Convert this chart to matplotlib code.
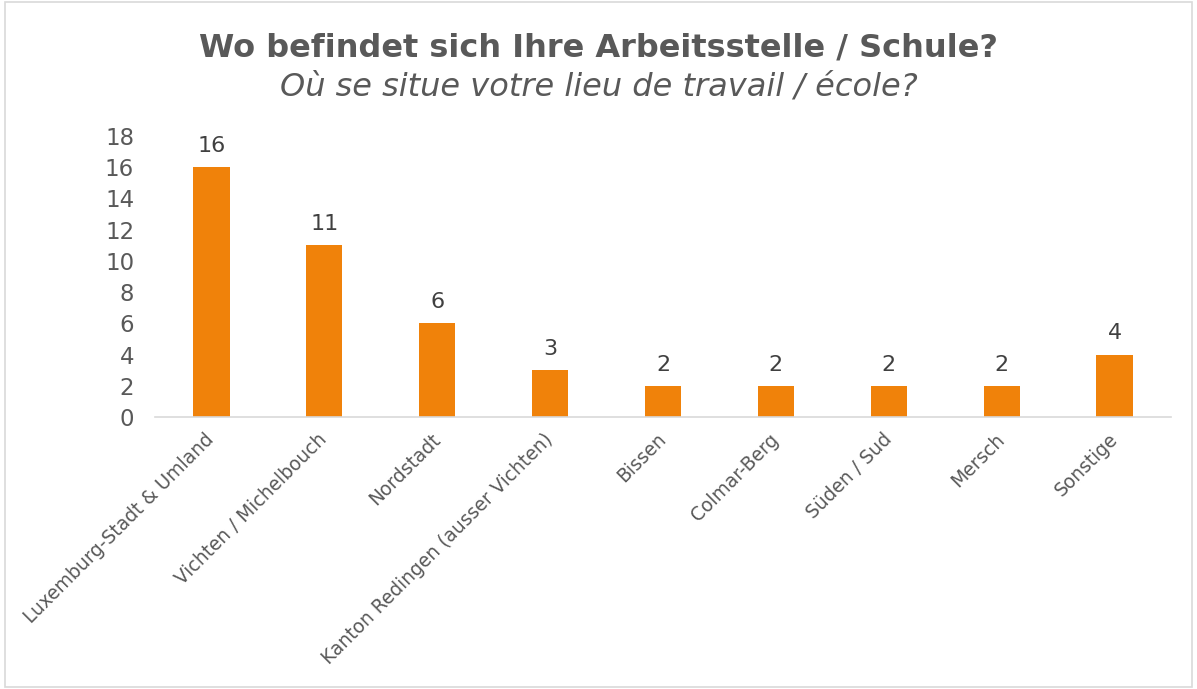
import matplotlib
matplotlib.use("Agg")
import matplotlib.pyplot as plt
from matplotlib.patches import Rectangle

categories = ["Luxemburg-Stadt & Umland", "Vichten / Michelbouch", "Nordstadt",
              "Kanton Redingen (ausser Vichten)", "Bissen", "Colmar-Berg",
              "Süden / Sud", "Mersch", "Sonstige"]
values = [16, 11, 6, 3, 2, 2, 2, 2, 4]
yticks = [0, 2, 4, 6, 8, 10, 12, 14, 16, 18]

title_de = "Wo befindet sich Ihre Arbeitsstelle / Schule?"
title_fr = "Où se situe votre lieu de travail / école?"

txt = "#595959"
bar_color = "#F0820A"

fig = plt.figure(figsize=(11.97, 6.89), dpi=100)
ax = fig.add_axes([155/1197, 1 - 417/689, (1171 - 155)/1197, (417 - 136)/689])

x = list(range(len(categories)))
ax.bar(x, values, width=0.32, color=bar_color, zorder=2)
ax.set_xlim(-0.5, len(categories) - 0.5)
ax.set_ylim(0, 18)
ax.set_yticks(yticks)
ax.set_yticklabels([str(t) for t in yticks], fontsize=16.5, color=txt)
ax.set_xticks(x)
ax.set_xticklabels(categories, rotation=45, ha="right", rotation_mode="anchor",
                   fontsize=13.4, color=txt)
ax.tick_params(axis="both", length=0)
ax.tick_params(axis="y", pad=15)
ax.tick_params(axis="x", pad=14)
for lbl in ax.get_xticklabels():
    lbl.set_va("center")
for s in ["top", "right", "left"]:
    ax.spines[s].set_visible(False)
ax.spines["bottom"].set_color("#d9d9d9")
ax.spines["bottom"].set_linewidth(1.2)

for xi, v in zip(x, values):
    ax.annotate(str(v), (xi, v), xytext=(0, 8), textcoords="offset points",
                ha="center", va="bottom", fontsize=16, color="#404040")

fig.text(0.5, 1 - 48/689, title_de, ha="center", va="center", fontsize=23,
         fontweight="bold", color=txt)
fig.text(0.5, 1 - 87/689, title_fr, ha="center", va="center", fontsize=23,
         fontstyle="italic", color=txt)

fig.patches.append(Rectangle((5/1197, 2/689), 1 - 10/1197, 1 - 4/689,
                             transform=fig.transFigure, fill=False,
                             edgecolor="#d9d9d9", linewidth=1.2))

fig.savefig("out.png", dpi=100)
